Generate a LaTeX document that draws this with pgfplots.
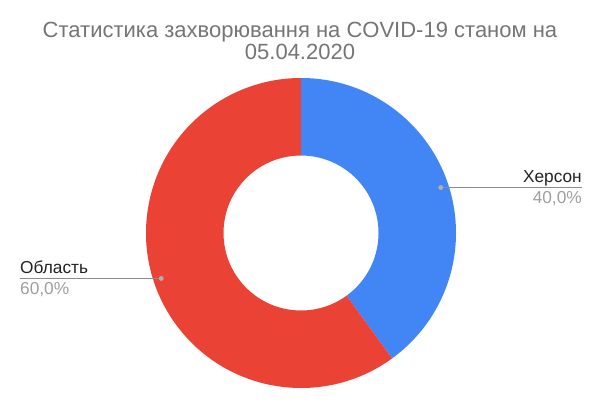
\documentclass[border=0pt]{standalone}
\usepackage{pgfplots}
\pgfplotsset{compat=1.18}
\usepackage{fontspec}
\setmainfont{Liberation Sans}

\definecolor{cBlue}{HTML}{4285F4}
\definecolor{cRed}{HTML}{EA4335}
\definecolor{cTitle}{HTML}{757575}
\definecolor{cPct}{HTML}{9E9E9E}
\definecolor{cLine}{HTML}{8C8C8C}
\definecolor{cDot}{HTML}{B0B0B0}
\definecolor{cText}{HTML}{222222}

% values of the two slices (percent)
\def\vKherson{40}
\def\vOblast{60}

\begin{document}
\begin{tikzpicture}
\begin{axis}[
    width=602bp, height=408bp,
    scale only axis,
    xmin=0, xmax=602,
    ymin=0, ymax=408,
    hide axis,
    clip=false,
]
    % keep the whole canvas in the bounding box
    \path (axis cs:0,0) rectangle (axis cs:602,408);

    % geometry: centre, outer/inner radius, radius of the label dots
    \pgfmathsetmacro{\cx}{301}
    \pgfmathsetmacro{\cy}{175}
    \pgfmathsetmacro{\tot}{\vKherson+\vOblast}
    \pgfmathsetmacro{\aK}{90-\vKherson/\tot*360}      % end of Херсон slice
    \pgfmathsetmacro{\aO}{\aK-\vOblast/\tot*360}       % end of Область slice
    \pgfmathsetmacro{\mK}{(90+\aK)/2}
    \pgfmathsetmacro{\mO}{(\aK+\aO)/2}
    \pgfmathsetmacro{\xK}{\cx+147*cos(\mK)}
    \pgfmathsetmacro{\yK}{\cy+147*sin(\mK)}
    \pgfmathsetmacro{\xO}{\cx+147*cos(\mO)}
    \pgfmathsetmacro{\yO}{\cy+147*sin(\mO)}

    \coordinate (C) at (axis cs:\cx,\cy);

    % slices
    \fill[cBlue] ([shift={(90:155bp)}]C) arc[start angle=90, end angle=\aK, radius=155bp]
        -- ([shift={(\aK:77.5bp)}]C) arc[start angle=\aK, end angle=90, radius=77.5bp] -- cycle;
    \fill[cRed] ([shift={(\aK:155bp)}]C) arc[start angle=\aK, end angle=\aO, radius=155bp]
        -- ([shift={(\aO:77.5bp)}]C) arc[start angle=\aO, end angle=\aK, radius=77.5bp] -- cycle;

    % leader lines and dots
    \addplot[cLine, line width=1.2bp] coordinates {(\xK,\yK) (582,\yK)};
    \addplot[cLine, line width=1.2bp] coordinates {(20,\yO) (\xO,\yO)};
    \addplot[only marks, mark=*, mark size=2.2bp, color=cDot] coordinates {(\xK,\yK) (\xO,\yO)};

    % labels
    \node[anchor=base east, font=\fontsize{17.3bp}{20bp}\selectfont, text=cText, inner sep=0pt]
        at (axis cs:582,\yK+5) {Херсон};
    \node[anchor=base east, font=\fontsize{17.3bp}{20bp}\selectfont, text=cPct, inner sep=0pt]
        at (axis cs:582,\yK-16) {40,0\%};
    \node[anchor=base west, font=\fontsize{17.3bp}{20bp}\selectfont, text=cText, inner sep=0pt]
        at (axis cs:20,\yO+5) {Область};
    \node[anchor=base west, font=\fontsize{17.3bp}{20bp}\selectfont, text=cPct, inner sep=0pt]
        at (axis cs:20,\yO-16) {60,0\%};

    % title
    \node[anchor=base, font=\fontsize{22bp}{26bp}\selectfont, text=cTitle, inner sep=0pt]
        at (axis cs:300,370) {Статистика захворювання на COVID-19 станом на};
    \node[anchor=base, font=\fontsize{22bp}{26bp}\selectfont, text=cTitle, inner sep=0pt]
        at (axis cs:300,348) {05.04.2020};
\end{axis}
\end{tikzpicture}
\end{document}
